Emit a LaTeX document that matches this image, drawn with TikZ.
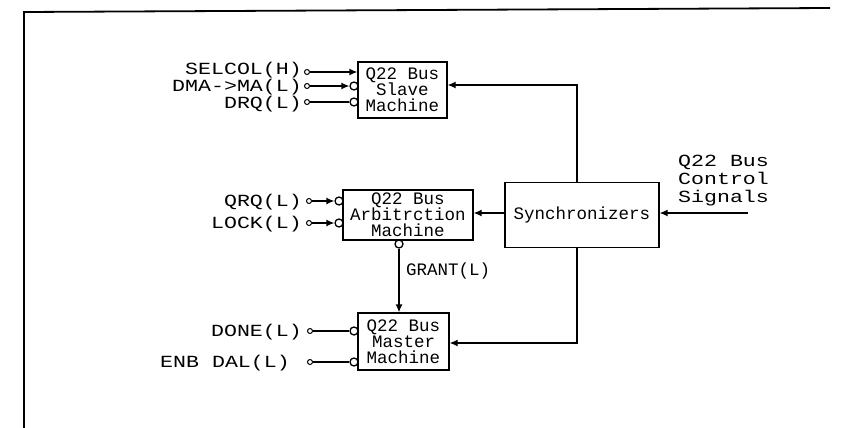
\documentclass[tikz,border=0pt]{standalone}
\usepackage{fontspec}
\setmonofont{Liberation Mono}
\newfontfamily\sigfont[FakeStretch=1.27]{Liberation Mono}
\usetikzlibrary{arrows.meta, positioning}

\tikzset{
    machine/.style={draw, line width=1.3pt, inner sep=0pt, align=center,
        font=\ttfamily\fontsize{17.5}{16}\selectfont},
    siglabel/.style={anchor=east, inner sep=0pt, font=\sigfont\fontsize{17}{18}\selectfont},
    term/.style={circle, draw, line width=1pt, inner sep=0pt, minimum size=5pt},
    bubble/.style={circle, draw, line width=1.3pt, inner sep=0pt, minimum size=8pt},
    wire/.style={line width=1.3pt},
    sig/.style={line width=1.3pt, -{Latex[length=8pt,width=7pt]}}
}

\begin{document}
\begin{tikzpicture}[x=1pt, y=-1pt]
    \useasboundingbox (0,0) rectangle (843,428);

    % Sheet frame
    \draw[line width=1.8pt] (24,428) -- (24,12) -- (830,8);

    % Machines
    \node[machine, minimum width=89pt, minimum height=56pt] (slave) at (402.5,90)
        {Q22 Bus\\Slave\\Machine};
    \node[machine, minimum width=130pt, minimum height=50pt] (arb) at (408,215)
        {Q22 Bus\\Arbitrction\\Machine};
    \node[machine, minimum width=91pt, minimum height=57pt] (master) at (403.5,341.5)
        {Q22 Bus\\Master\\Machine};
    \node[machine, minimum width=154pt, minimum height=65pt] (sync) at (582,215)
        {Synchronizers};

    % Slave inputs
    \node[siglabel] (lsel) at (302,70) {SELCOL(H)};
    \node[siglabel] (ldma) at (302,87) {DMA->MA(L)};
    \node[siglabel] (ldrq) at (302,104) {DRQ(L)};
    \node[term] (tsel) at (307,72) {};
    \node[term] (tdma) at (307,86) {};
    \node[term] (tdrq) at (307,102) {};
    \node[bubble] (bdma) at (354,86) {};
    \node[bubble] (bdrq) at (354,102) {};
    \draw[sig] (tsel) -- (slave.west |- tsel);
    \draw[sig] (tdma) -- (bdma);
    \draw[wire] (tdrq) -- (bdrq);

    % Arbitration inputs
    \node[siglabel] (lqrq) at (302,202) {QRQ(L)};
    \node[siglabel] (llock) at (302,224) {LOCK(L)};
    \node[term] (tqrq) at (309,201) {};
    \node[term] (tlock) at (309,223) {};
    \node[bubble] (bqrq) at (339,201) {};
    \node[bubble] (block) at (339,223) {};
    \draw[sig] (tqrq) -- (bqrq);
    \draw[sig] (tlock) -- (block);

    % Grant
    \node[bubble] (bgrant) at (399,244) {};
    \draw[sig] (bgrant) -- (master.north -| bgrant);
    \node[anchor=west, inner sep=0pt, font=\ttfamily\fontsize{17.5}{16}\selectfont]
        (lgrant) at (406,271) {GRANT(L)};

    % Master inputs
    \node[siglabel] (ldone) at (302,332) {DONE(L)};
    \node[siglabel] (ldal) at (290,363) {ENB DAL(L)};
    \node[term] (tdone) at (310,331) {};
    \node[term] (tdal) at (310,362) {};
    \node[bubble] (bdone) at (354,331) {};
    \node[bubble] (bdal) at (354,362) {};
    \draw[wire] (tdone) -- (bdone);
    \draw[wire] (tdal) -- (bdal);

    % Bus control signals into synchronizers
    \node[anchor=west, align=left, inner sep=0pt,
          font=\sigfont\fontsize{17}{18}\selectfont] (lctl) at (678,181)
        {Q22 Bus\\Control\\Signals};
    \coordinate (cin) at (748,213);
    \draw[sig] (cin) -- (sync.east |- cin);
    \draw[sig] (sync.west |- cin) -- (arb.east |- cin);

    % Synchronized feedback
    \coordinate (ftop) at (577,85);
    \coordinate (fbot) at (577,343);
    \draw[sig] (sync.north -| ftop) -- (ftop) -- (slave.east |- ftop);
    \draw[sig] (sync.south -| fbot) -- (fbot) -- (master.east |- fbot);
\end{tikzpicture}
\end{document}
